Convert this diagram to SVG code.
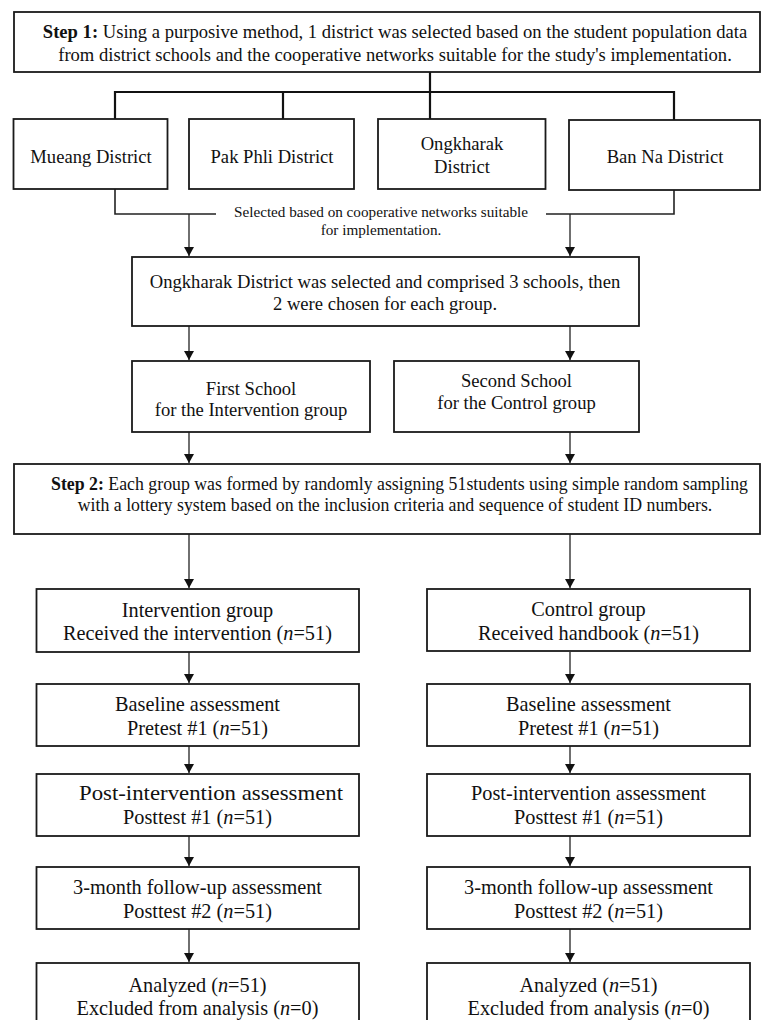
<svg xmlns="http://www.w3.org/2000/svg" width="761" height="1020" viewBox="0 0 761 1020">
<style>
.box{fill:#fff;stroke:#1a1a1a;stroke-width:1.8}
.t{font-family:"Liberation Serif","Times New Roman",serif;fill:#111;text-anchor:middle}
.s18{font-size:18.6px}
.s17{font-size:17.8px}
.s15{font-size:15.2px}
.s20{font-size:20.3px}
.b{font-weight:bold}
.tree{fill:none;stroke:#111;stroke-width:2.2}
.ln{fill:none;stroke:#222;stroke-width:1.6}
.ar{fill:none;stroke:#222;stroke-width:1.3;marker-end:url(#ah)}
</style>
<defs>
<marker id="ah" viewBox="0 0 9 10" refX="9" refY="5" markerWidth="9" markerHeight="10" markerUnits="userSpaceOnUse" orient="auto">
<path d="M0,0 L9,5 L0,10 z" fill="#111"/>
</marker>
</defs>
<rect width="761" height="1020" fill="#fff"/>

<g id="connectors">
<path class="tree" d="M430,72 V92 M115,92 H674 M115,91 V119 M283,91 V119 M430,91 V119 M674,91 V120"/>
<path class="ln" d="M115,189 V214 H216 M546,214 H674 V190"/>
<path class="ar" d="M189,214 V256"/>
<path class="ar" d="M570,214 V256"/>
<path class="ar" d="M189,326 V360"/>
<path class="ar" d="M570,326 V360"/>
<path class="ar" d="M189,432 V463"/>
<path class="ar" d="M570,432 V463"/>
<path class="ar" d="M189,534 V588"/>
<path class="ar" d="M570,534 V588"/>
<path class="ar" d="M189,652 V683"/>
<path class="ar" d="M570,652 V683"/>
<path class="ar" d="M189,746 V773"/>
<path class="ar" d="M570,746 V773"/>
<path class="ar" d="M189,836 V866"/>
<path class="ar" d="M570,836 V866"/>
<path class="ar" d="M189,929 V962"/>
<path class="ar" d="M570,929 V962"/>
<text class="t s15" x="381" y="217">Selected based on cooperative networks suitable</text>
<text class="t s15" x="381" y="235">for implementation.</text>
</g>

<g id="step1">
<rect class="box" x="14" y="12" width="746" height="60"/>
<text class="t s18" x="395" y="37.5"><tspan class="b">Step 1:</tspan> Using a purposive method, 1 district was selected based on the student population data</text>
<text class="t s18" x="395" y="61">from district schools and the cooperative networks suitable for the study's implementation.</text>
</g>

<g id="mueang">
<rect class="box" x="13.5" y="119" width="154" height="70"/>
<text class="t s18" x="91" y="162.5">Mueang District</text>
</g>
<g id="pakphli">
<rect class="box" x="189" y="119" width="165" height="70"/>
<text class="t s18" x="272" y="162.5">Pak Phli District</text>
</g>
<g id="ongkharak">
<rect class="box" x="378" y="119" width="167.5" height="70"/>
<text class="t s18" x="462" y="149.5">Ongkharak</text>
<text class="t s18" x="462" y="172.5">District</text>
</g>
<g id="banna">
<rect class="box" x="569" y="120" width="191" height="70"/>
<text class="t s18" x="665" y="162.5">Ban Na District</text>
</g>

<g id="selected">
<rect class="box" x="132" y="257" width="507" height="69"/>
<text class="t s18" x="385" y="288">Ongkharak District was selected and comprised 3 schools, then</text>
<text class="t s18" x="385" y="310">2 were chosen for each group.</text>
</g>

<g id="firstschool">
<rect class="box" x="132" y="361" width="238" height="71"/>
<text class="t s18" x="251" y="394.5">First School</text>
<text class="t s18" x="251" y="416">for the Intervention group</text>
</g>
<g id="secondschool">
<rect class="box" x="394" y="361" width="245" height="71"/>
<text class="t s18" x="516.5" y="387">Second School</text>
<text class="t s18" x="516.5" y="408.5">for the Control group</text>
</g>

<g id="step2">
<rect class="box" x="14" y="464" width="746" height="70"/>
<text class="t s17" x="399.5" y="490"><tspan class="b">Step 2:</tspan> Each group was formed by randomly assigning 51students using simple random sampling</text>
<text class="t s17" x="395" y="511">with a lottery system based on the inclusion criteria and sequence of student ID numbers.</text>
</g>

<g id="intervention">
<rect class="box" x="36.5" y="589" width="322.5" height="63"/>
<text class="t s20" x="197.5" y="616.5">Intervention group</text>
<text class="t s20" x="197.5" y="640">Received the intervention (<tspan font-style="italic">n</tspan>=51)</text>
</g>
<g id="control">
<rect class="box" x="427" y="589" width="323" height="62"/>
<text class="t s20" x="588.5" y="616">Control group</text>
<text class="t s20" x="588.5" y="640">Received handbook (<tspan font-style="italic">n</tspan>=51)</text>
</g>

<g id="baseline-int">
<rect class="box" x="36.5" y="684" width="322.5" height="62"/>
<text class="t s20" x="197.5" y="711">Baseline assessment</text>
<text class="t s20" x="197.5" y="735">Pretest #1 (<tspan font-style="italic">n</tspan>=51)</text>
</g>
<g id="baseline-ctl">
<rect class="box" x="427" y="684" width="323" height="62"/>
<text class="t s20" x="588.5" y="711">Baseline assessment</text>
<text class="t s20" x="588.5" y="735">Pretest #1 (<tspan font-style="italic">n</tspan>=51)</text>
</g>

<g id="post-int">
<rect class="box" x="36.5" y="774" width="322.5" height="62"/>
<text class="t s20" x="211" y="800" textLength="264" lengthAdjust="spacingAndGlyphs">Post-intervention assessment</text>
<text class="t s20" x="197.5" y="824">Posttest #1 (<tspan font-style="italic">n</tspan>=51)</text>
</g>
<g id="post-ctl">
<rect class="box" x="427" y="774" width="323" height="62"/>
<text class="t s20" x="588.5" y="800">Post-intervention assessment</text>
<text class="t s20" x="588.5" y="824">Posttest #1 (<tspan font-style="italic">n</tspan>=51)</text>
</g>

<g id="followup-int">
<rect class="box" x="36.5" y="867" width="322.5" height="62"/>
<text class="t s20" x="197.5" y="894">3-month follow-up assessment</text>
<text class="t s20" x="197.5" y="918">Posttest #2 (<tspan font-style="italic">n</tspan>=51)</text>
</g>
<g id="followup-ctl">
<rect class="box" x="427" y="867" width="323" height="62"/>
<text class="t s20" x="588.5" y="894">3-month follow-up assessment</text>
<text class="t s20" x="588.5" y="918">Posttest #2 (<tspan font-style="italic">n</tspan>=51)</text>
</g>

<g id="analyzed-int">
<rect class="box" x="36.5" y="963" width="322.5" height="70"/>
<text class="t s20" x="197.5" y="992">Analyzed (<tspan font-style="italic">n</tspan>=51)</text>
<text class="t s20" x="197.5" y="1015">Excluded from analysis (<tspan font-style="italic">n</tspan>=0)</text>
</g>
<g id="analyzed-ctl">
<rect class="box" x="427" y="963" width="323" height="70"/>
<text class="t s20" x="588.5" y="992">Analyzed (<tspan font-style="italic">n</tspan>=51)</text>
<text class="t s20" x="588.5" y="1015">Excluded from analysis (<tspan font-style="italic">n</tspan>=0)</text>
</g>
</svg>
